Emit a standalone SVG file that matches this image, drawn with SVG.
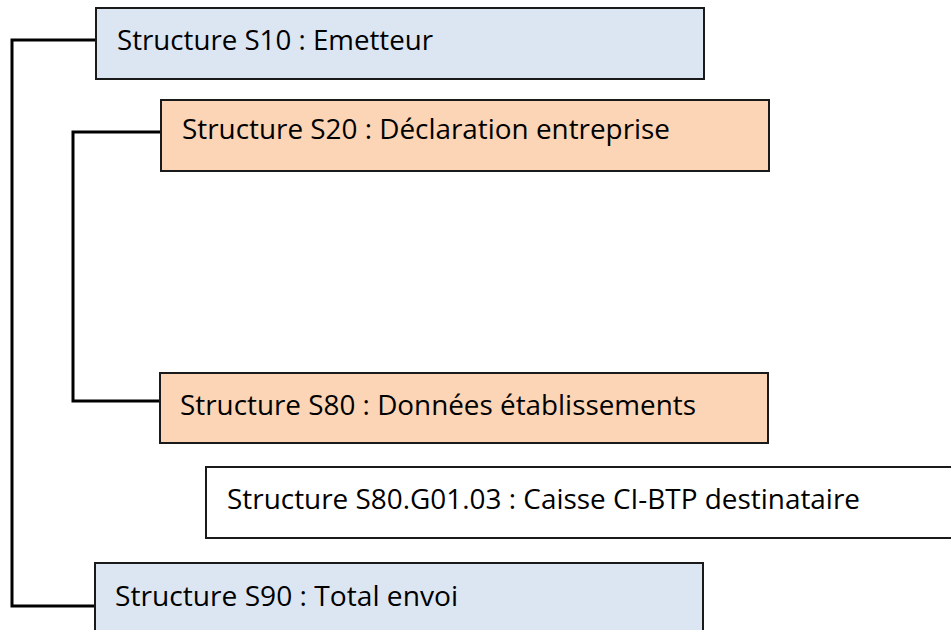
<svg xmlns="http://www.w3.org/2000/svg" width="951" height="630" viewBox="0 0 951 630">
<style>
.box{stroke:#1a1a1a;stroke-width:2}
.blue{fill:#dce6f2}
.orange{fill:#fbd5b5}
.white{fill:#ffffff}
.lbl{font-family:"Open Sans","Liberation Sans",Arial,sans-serif;font-size:27px;fill:#000}
.conn{fill:none;stroke:#000;stroke-width:3}
</style>
<rect width="951" height="630" fill="#ffffff"/>
<g id="connectors">
<polyline class="conn" points="96,40 12,40 12,606 96,606"/>
<polyline class="conn" points="161,132 73,132 73,401 161,401"/>
</g>
<g id="s10">
<rect class="box blue" x="96" y="8" width="608" height="71"/>
<text class="lbl" x="117" y="50" textLength="316" lengthAdjust="spacingAndGlyphs">Structure S10 : Emetteur</text>
</g>
<g id="s20">
<rect class="box orange" x="161" y="100" width="608" height="71"/>
<text class="lbl" x="182" y="139" textLength="488" lengthAdjust="spacingAndGlyphs">Structure S20 : Déclaration entreprise</text>
</g>
<g id="s80">
<rect class="box orange" x="160" y="373" width="608" height="70"/>
<text class="lbl" x="180" y="415" textLength="516" lengthAdjust="spacingAndGlyphs">Structure S80 : Données établissements</text>
</g>
<g id="s80g01">
<rect class="box white" x="206" y="467" width="760" height="71"/>
<text class="lbl" x="227" y="509" textLength="633" lengthAdjust="spacingAndGlyphs">Structure S80.G01.03 : Caisse CI-BTP destinataire</text>
</g>
<g id="s90">
<rect class="box blue" x="95" y="563" width="608" height="80"/>
<text class="lbl" x="115" y="606" textLength="343" lengthAdjust="spacingAndGlyphs">Structure S90 : Total envoi</text>
</g>
</svg>
